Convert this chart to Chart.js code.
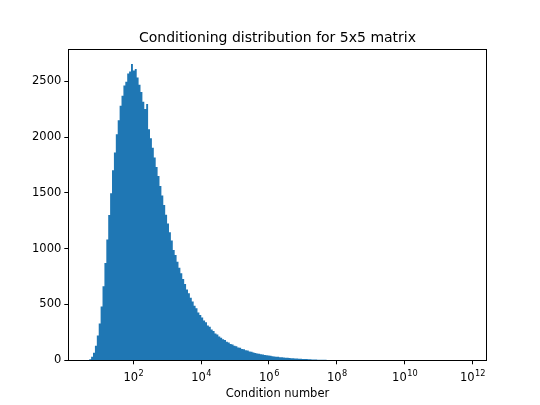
<!DOCTYPE html>
<html>
<head>
<meta charset="utf-8">
<script src="https://cdn.jsdelivr.net/npm/chart.js@4.4.1/dist/chart.umd.min.js"></script>
<style>
  html, body { margin: 0; padding: 0; background: #fff; }
  #wrap { width: 540px; height: 405px; position: relative; }
</style>
</head>
<body>
<div id="wrap"><canvas id="histChart"></canvas></div>
<script>
// =========================
// Histogram data (log10 bins)
// =========================
const logStart = 0.644;   // log10 of first bin's left edge
const binWidth = 0.056;   // bin width in decades

const counts = [
  2, 10, 31, 68, 131, 222, 330, 482, 664, 871,
  1082, 1301, 1498, 1703, 1862, 2026, 2151, 2282, 2370, 2462,
  2497, 2571, 2588, 2655, 2596, 2611, 2534, 2470, 2404, 2318,
  2252, 2296, 2071, 1990, 1905, 1818, 1733, 1652, 1562, 1477,
  1392, 1305, 1225, 1147, 1073, 989, 944, 884, 829, 781,
  729, 684, 634, 601, 560, 527, 488, 466, 429, 407,
  383, 356, 341, 312, 301, 276, 263, 240, 232, 213,
  203, 188, 181, 166, 160, 147, 142, 131, 126, 114,
  113, 101, 98, 90, 87, 79, 77, 70, 66, 62,
  58, 54, 52, 47, 45, 42, 41, 37, 35, 31,
  31, 28, 27, 24, 23, 22, 20, 19, 18, 16,
  16, 14, 14, 12, 12, 11, 10, 9, 8, 8,
  7, 6, 6, 5, 4, 5, 3, 3, 2, 3,
  2, 1, 2, 1, 1, 0, 1, 0, 1,
];

// x ticks sit at log10 values, labelled 10^n
const xTickValues = [2, 4, 6, 8, 10, 12];
const xTickExponents = ["2", "4", "6", "8", "10", "12"];
const yTickValues = [0, 500, 1000, 1500, 2000, 2500];

const barColor = "#1f77b4";
const fontFamily = "DejaVu Sans";

// matplotlib-style closed box round the axes
const frameBox = {
  id: "frameBox",
  afterDraw(chart) {
    const { ctx, chartArea } = chart;
    ctx.save();
    ctx.strokeStyle = "#000";
    ctx.lineWidth = 1;
    ctx.strokeRect(
      Math.round(chartArea.left) + 0.5,
      Math.round(chartArea.top) + 0.5,
      Math.round(chartArea.right - chartArea.left),
      Math.round(chartArea.bottom - chartArea.top)
    );
    ctx.restore();
  },
};

// 10 with a raised exponent, like matplotlib's log tick labels
const powerLabels = {
  id: "powerLabels",
  afterDraw(chart) {
    const { ctx, chartArea } = chart;
    const xScale = chart.scales.x;
    const baseY = chartArea.bottom + 21;
    ctx.save();
    ctx.fillStyle = "#000";
    ctx.textBaseline = "alphabetic";
    ctx.textAlign = "left";
    xTickValues.forEach((v, i) => {
      const px = xScale.getPixelForValue(v);
      ctx.font = `11.5px "${fontFamily}"`;
      const wBase = ctx.measureText("10").width;
      ctx.font = `8.2px "${fontFamily}"`;
      const wExp = ctx.measureText(xTickExponents[i]).width;
      const start = px - (wBase + wExp) / 2;
      ctx.font = `11.5px "${fontFamily}"`;
      ctx.fillText("10", start, baseY);
      ctx.font = `8.2px "${fontFamily}"`;
      ctx.fillText(xTickExponents[i], start + wBase + 0.5, baseY - 5);
    });
    ctx.restore();
  },
};

function renderHistogram() {
  const ctx = document.getElementById("histChart").getContext("2d");

  // step outline: each bin's count holds from its left edge to the next edge
  const points = counts.map((c, i) => ({ x: logStart + binWidth * i, y: c }));
  points.push({ x: logStart + binWidth * counts.length, y: 0 });

  new Chart(ctx, {
    type: "line",
    data: {
      datasets: [
        {
          data: points,
          stepped: "before",
          fill: "origin",
          backgroundColor: barColor,
          borderColor: barColor,
          borderWidth: 0,
          pointRadius: 0,
          tension: 0,
        },
      ],
    },
    options: {
      responsive: true,
      maintainAspectRatio: false,
      animation: false,
      layout: { padding: { left: 0, right: 53.3, top: 0, bottom: 0 } },
      plugins: {
        legend: { display: false },
        tooltip: { enabled: false },
        title: {
          display: true,
          text: "Conditioning distribution for 5x5 matrix",
          color: "#000",
          fullSize: false,
          font: { family: fontFamily, size: 14, weight: "normal" },
          padding: { top: 29.5, bottom: 3 },
        },
      },
      scales: {
        x: {
          type: "linear",
          min: 0.083,
          max: 12.42,
          afterFit: (scale) => { scale.height = 44.7; },
          afterBuildTicks: (scale) => {
            scale.ticks = xTickValues.map((v) => ({ value: v }));
          },
          grid: {
            drawOnChartArea: false,
            drawTicks: true,
            tickLength: 4,
            tickColor: "#000",
          },
          border: { display: true, color: "#000" },
          ticks: {
            color: "#000",
            autoSkip: false,
            maxRotation: 0,
            padding: 3,
            font: { family: fontFamily, size: 11.5 },
            callback: () => "",
          },
          title: {
            display: true,
            text: "Condition number",
            color: "#000",
            font: { family: fontFamily, size: 11.5 },
            padding: { top: 0, bottom: 4 },
          },
        },
        y: {
          min: 0,
          max: 2787,
          afterFit: (scale) => { scale.width = 68.3; },
          afterBuildTicks: (scale) => {
            scale.ticks = yTickValues.map((v) => ({ value: v }));
          },
          grid: {
            drawOnChartArea: false,
            drawTicks: true,
            tickLength: 4,
            tickColor: "#000",
          },
          border: { display: true, color: "#000" },
          ticks: {
            color: "#000",
            padding: 3,
            font: { family: fontFamily, size: 11.5 },
            callback: (value) => String(value),
          },
        },
      },
    },
    plugins: [frameBox, powerLabels],
  });
}

renderHistogram();
</script>
</body>
</html>
